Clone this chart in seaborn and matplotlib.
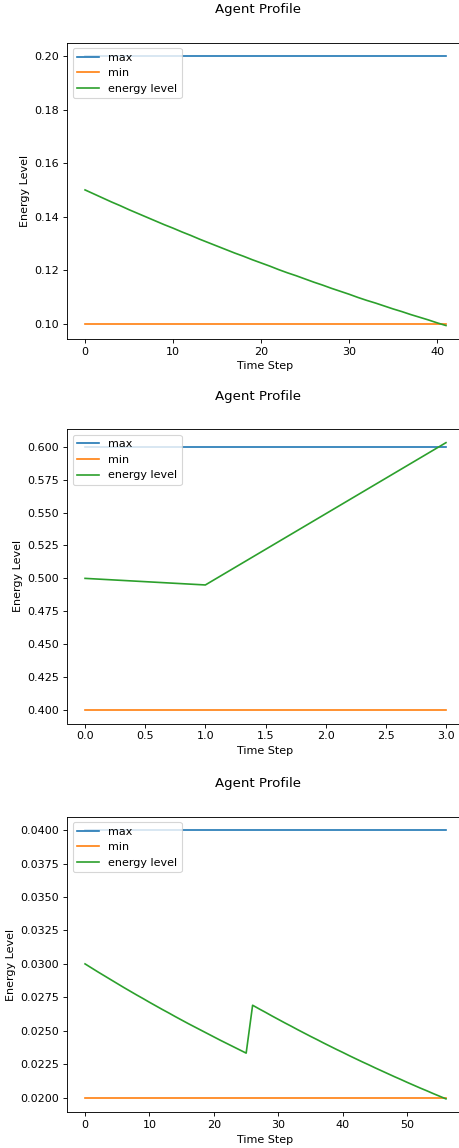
import matplotlib
matplotlib.use("Agg")
import matplotlib.pyplot as plt
import seaborn as sns

# Panel 1
steps1 = list(range(42))
energy1 = [0.1500, 0.1485, 0.1470, 0.1455, 0.1441, 0.1426, 0.1412, 0.1398, 0.1384, 0.1370,
           0.1357, 0.1343, 0.1330, 0.1316, 0.1303, 0.1290, 0.1277, 0.1264, 0.1252, 0.1239,
           0.1227, 0.1215, 0.1202, 0.1190, 0.1179, 0.1167, 0.1155, 0.1144, 0.1132, 0.1121,
           0.1110, 0.1098, 0.1087, 0.1077, 0.1066, 0.1055, 0.1045, 0.1034, 0.1024, 0.1014,
           0.1003, 0.0993]
max1, min1 = 0.20, 0.10

# Panel 2
steps2 = [0, 1, 2, 3]
energy2 = [0.500, 0.495, 0.549, 0.603]
max2, min2 = 0.60, 0.40

# Panel 3
steps3 = list(range(57))
energy3 = [0.03000, 0.02970, 0.02940, 0.02911, 0.02882, 0.02853, 0.02824, 0.02796, 0.02768, 0.02741,
           0.02713, 0.02686, 0.02659, 0.02633, 0.02606, 0.02580, 0.02554, 0.02529, 0.02504, 0.02479,
           0.02454, 0.02429, 0.02405, 0.02381, 0.02357, 0.02333,
           0.02691, 0.02664, 0.02638, 0.02611, 0.02585, 0.02559, 0.02534, 0.02508, 0.02483, 0.02458,
           0.02434, 0.02409, 0.02385, 0.02361, 0.02338, 0.02314, 0.02291, 0.02268, 0.02246, 0.02223,
           0.02201, 0.02179, 0.02157, 0.02136, 0.02114, 0.02093, 0.02072, 0.02052, 0.02031, 0.02011,
           0.01991]
max3, min3 = 0.04, 0.02

panels = [(steps1, energy1, max1, min1), (steps2, energy2, max2, min2), (steps3, energy3, max3, min3)]

DPI = 80
W, H = 459, 1148
fig = plt.figure(figsize=(W / DPI, H / DPI), dpi=DPI)
ax_left, ax_right = 67, 464
tops = [42.7, 429.3, 816.7]
heights = [296.3, 294.2, 295.6]
title_y = [10, 396, 783]

for i, (xs, ys, mx, mn) in enumerate(panels):
    t = tops[i]
    h = heights[i]
    ax = fig.add_axes([ax_left / W, 1 - (t + h) / H, (ax_right - ax_left) / W, h / H])
    sns.lineplot(x=xs, y=[mx] * len(xs), ax=ax, label="max", color="#1f77b4", linewidth=1.5)
    sns.lineplot(x=xs, y=[mn] * len(xs), ax=ax, label="min", color="#ff7f0e", linewidth=1.5)
    sns.lineplot(x=xs, y=ys, ax=ax, label="energy level", color="#2ca02c", linewidth=1.5)
    ax.set_xlabel("Time Step")
    ax.set_ylabel("Energy Level")
    ax.legend(loc="upper left")
    fig.text(258 / W, 1 - title_y[i] / H, "Agent Profile", ha="center", va="center", fontsize=12)

fig.savefig("out.png", dpi=DPI)
